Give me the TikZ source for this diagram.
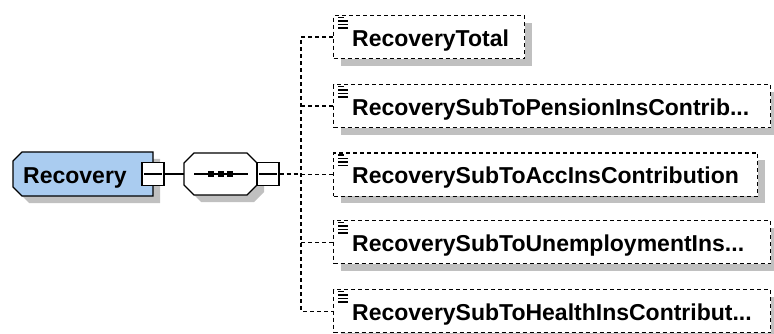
\documentclass[tikz,border=0pt]{standalone}
\usepackage{fontspec}
\setmainfont{Liberation Sans}
\usetikzlibrary{shadows}
\definecolor{elemblue}{RGB}{170,204,240}
\definecolor{shadowgray}{RGB}{192,192,192}
\begin{document}
\begin{tikzpicture}[x=1pt,y=-1pt,
  lbl/.style={font=\fontsize{23}{27}\selectfont\bfseries, inner sep=0, anchor=base west},
  minusbox/.style={draw, fill=white, line width=1.3pt, minimum width=22pt, minimum height=23pt, inner sep=0},
  childbox/.style={draw, dash pattern=on 4pt off 3pt, line width=1.3pt, fill=white, minimum height=43pt, inner sep=0, anchor=north west,
    drop shadow={shadow xshift=7pt, shadow yshift=-7pt, fill=shadowgray, opacity=1}},
  conn/.style={line width=1.3pt},
  dconn/.style={line width=1.3pt, dash pattern=on 4pt off 3pt},
  shade/.style={fill=shadowgray, draw=none},
  icon/.style={line width=1.5pt}
]
\useasboundingbox (0,0) rectangle (774,334);

% Recovery element
\fill[shade, shift={(7,7)}] (13,161) -- (22,152) -- (153,152) -- (153,196) -- (22,196) -- (13,187) -- cycle;
\draw[fill=elemblue, line width=1.3pt] (13,161) -- (22,152) -- (153,152) -- (153,196) -- (22,196) -- (13,187) -- cycle;
\node[inner sep=0, minimum width=140pt, minimum height=44pt] (rec) at (83,174) {};
\node[lbl] (reclbl) at (23,183) {Recovery};
\node[minusbox] (m1) at (153,174) {};
\draw[conn] ([xshift=3pt]m1.west) -- ([xshift=-3pt]m1.east);

% sequence compositor
\fill[shade, shift={(7,7)}] (184,163) -- (194,153) -- (247,153) -- (257,163) -- (257,185) -- (247,195) -- (194,195) -- (184,185) -- cycle;
\draw[fill=white, line width=1.3pt] (184,163) -- (194,153) -- (247,153) -- (257,163) -- (257,185) -- (247,195) -- (194,195) -- (184,185) -- cycle;
\node[inner sep=0, minimum width=73pt, minimum height=42pt] (seq) at (220.5,174) {};
\draw[conn] (194,174) -- (248,174);
\fill (208,171) rectangle +(6,6);
\fill (217.5,171) rectangle +(6,6);
\fill (227,171) rectangle +(6,6);
\node[minusbox] (m2) at (268,174) {};
\draw[conn] ([xshift=3pt]m2.west) -- ([xshift=-3pt]m2.east);

\draw[conn] (m1.east) -- (m1.east -| seq.west);

% children
\node[childbox, minimum width=191pt] (c1) at (333,15) {};
\node[childbox, minimum width=437pt] (c2) at (333,84) {};
\node[childbox, minimum width=424pt] (c3) at (333,152.5) {};
\node[childbox, minimum width=437pt] (c4) at (333,220) {};
\node[childbox, minimum width=437pt] (c5) at (333,289) {};

\foreach \c in {c1,c2,c3,c4,c5}{
  \draw[icon] ([xshift=5pt,yshift=-2.5pt]\c.north west) -- +(6,0);
  \draw[icon] ([xshift=5pt,yshift=-6pt]\c.north west) -- +(10,0);
  \draw[icon] ([xshift=5pt,yshift=-9.5pt]\c.north west) -- +(10,0);
  \draw[icon] ([xshift=5pt,yshift=-13pt]\c.north west) -- +(10,0);
}

\node[lbl] (t1) at ([xshift=19pt,yshift=-9pt]c1.west) {RecoveryTotal};
\node[lbl] (t2) at ([xshift=19pt,yshift=-9pt]c2.west) {RecoverySubToPensionInsContrib...};
\node[lbl] (t3) at ([xshift=19pt,yshift=-9pt]c3.west) {RecoverySubToAccInsContribution};
\node[lbl] (t4) at ([xshift=19pt,yshift=-9pt]c4.west) {RecoverySubToUnemploymentIns...};
\node[lbl] (t5) at ([xshift=19pt,yshift=-9pt]c5.west) {RecoverySubToHealthInsContribut...};

% connectors
\coordinate (bus) at (301,174);
\draw[dconn] (m2.east) -- (bus);
\draw[dconn] (c1.west) -- (c1.west -| bus) -- (c5.west -| bus) -- (c5.west);
\draw[dconn] (c2.west -| bus) -- (c2.west);
\draw[dconn] (c3.west -| bus) -- (c3.west);
\draw[dconn] (c4.west -| bus) -- (c4.west);
\end{tikzpicture}
\end{document}
